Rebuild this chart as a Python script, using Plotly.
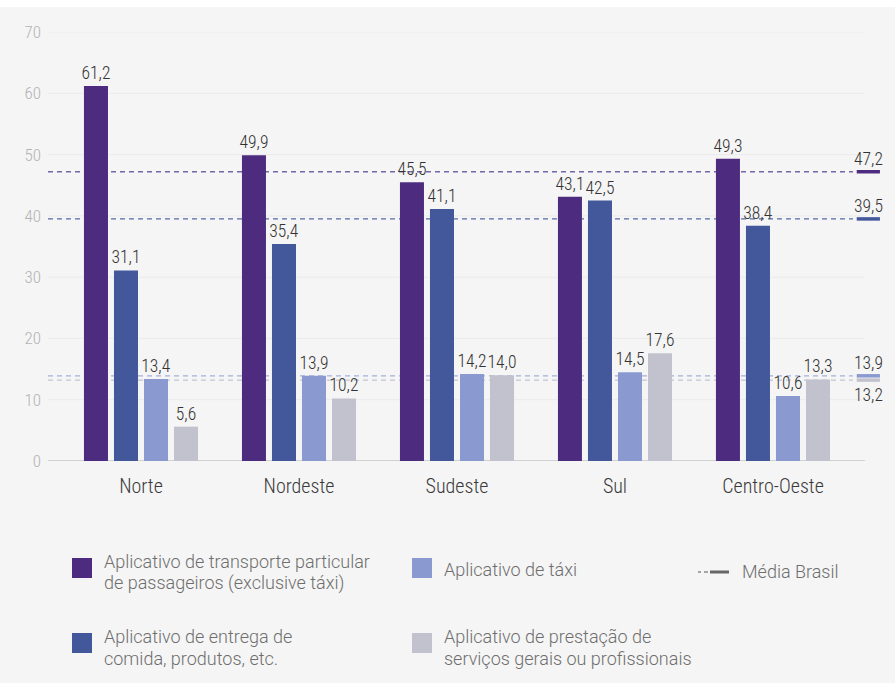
import plotly.graph_objects as go

# ---------------- data ----------------
regions = ["Norte", "Nordeste", "Sudeste", "Sul", "Centro-Oeste"]
series_names = [
    "Aplicativo de transporte particular de passageiros (exclusive táxi)",
    "Aplicativo de entrega de comida, produtos, etc.",
    "Aplicativo de táxi",
    "Aplicativo de prestação de serviços gerais ou profissionais",
]
transporte = [61.2, 49.9, 45.5, 43.1, 49.3]
entrega = [31.1, 35.4, 41.1, 42.5, 38.4]
taxi = [13.4, 13.9, 14.2, 14.5, 10.6]
servicos = [5.6, 10.2, 14.0, 17.6, 13.3]
media_brasil = [47.2, 39.5, 13.9, 13.2]
y_ticks = [0, 10, 20, 30, 40, 50, 60, 70]

# ---------------- styles ----------------
colors = ["#4d2c80", "#43579b", "#8a9ad0", "#c2c2cf"]
dash_colors = ["#7566a6", "#5a6aa8", "#a4b0dc", "#c4c4d2"]
offsets = [-0.361, -0.171, 0.019, 0.209]
bar_w = 0.152
num_font = "Roboto Condensed, Liberation Sans Narrow, sans-serif"
leg_font = "Roboto, Liberation Sans, sans-serif"

x_left, x_right = -0.5886, 4.709
base_end = 4.582
dash_end = 4.506
seg0, seg1 = 4.53, 4.677

def fmt(v):
    return f"{v:.1f}".replace(".", ",")

fig = go.Figure()
xs = list(range(len(regions)))
for i, vals in enumerate([transporte, entrega, taxi, servicos]):
    fig.add_trace(go.Bar(
        x=xs, y=vals, name=series_names[i],
        width=bar_w, offset=offsets[i],
        marker=dict(color=colors[i], line=dict(width=0)),
        text=[fmt(v) for v in vals], textposition="outside",
        textfont=dict(family=num_font, size=17.5, color="#333333", weight=300),
        constraintext="none", cliponaxis=False,
        showlegend=False,
    ))

shapes = []
# faint gridlines
for t in y_ticks[1:]:
    shapes.append(dict(type="line", xref="x", yref="y", x0=x_left, x1=base_end,
                       y0=t, y1=t, line=dict(color="#ebebeb", width=1), layer="below"))
# baseline
shapes.append(dict(type="line", xref="x", yref="y", x0=x_left, x1=base_end,
                   y0=0, y1=0, line=dict(color="#c4c4c4", width=1.5), layer="below"))
# Média Brasil dashed lines and end segments
for i, m in enumerate(media_brasil):
    shapes.append(dict(type="line", xref="x", yref="y", x0=x_left, x1=dash_end,
                       y0=m, y1=m, line=dict(color=dash_colors[i], width=1.3, dash="5px,4px"),
                       layer="below"))
for i in [3, 2, 1, 0]:
    m = media_brasil[i]
    shapes.append(dict(type="line", xref="x", yref="y", x0=seg0, x1=seg1,
                       y0=m, y1=m, line=dict(color=colors[i], width=3.5)))

annotations = []
# media labels
for i, m in enumerate(media_brasil):
    below = (i == 3)
    annotations.append(dict(x=(seg0 + seg1) / 2, y=m, xref="x", yref="y",
                            text=fmt(m), showarrow=False,
                            yanchor="top" if below else "bottom",
                            yshift=-3 if below else 1,
                            font=dict(family=num_font, size=17.5, color="#333333", weight=300)))

# white strip at top (cropped title area)
shapes.append(dict(type="rect", xref="paper", yref="paper", x0=-0.1, x1=1.1,
                   y0=1 + 25 / 429, y1=1 + 40 / 429, fillcolor="white", line=dict(width=0)))

# ---------------- custom legend (pixel-based helpers) ----------------
W, H = 895, 683
L, R, T, B = 48, 10, 32, 222
PW, PH = W - L - R, H - T - B

def px(xp):
    return (xp - L) / PW

def py(yp):
    return (H - B - yp) / PH

leg_items = [
    (72, 558, colors[0], ["Aplicativo de transporte particular", "de passageiros (exclusive táxi)"], [561, 583]),
    (72, 633, colors[1], ["Aplicativo de entrega de", "comida, produtos, etc."], [636, 658]),
    (412, 558, colors[2], ["Aplicativo de táxi"], [569]),
    (412, 633, colors[3], ["Aplicativo de prestação de", "serviços gerais ou profissionais"], [636, 658]),
]
for (sx, sy, col, lines, ys) in leg_items:
    shapes.append(dict(type="rect", xref="paper", yref="paper",
                       x0=px(sx), x1=px(sx + 20), y0=py(sy + 20), y1=py(sy),
                       fillcolor=col, line=dict(width=0)))
    for ln, yy in zip(lines, ys):
        annotations.append(dict(x=px(sx + 30), y=py(yy), xref="paper", yref="paper",
                                text=ln, showarrow=False, xanchor="left", yanchor="middle",
                                font=dict(family=leg_font, size=18, color="#6e6e6e", weight=300)))
# Média Brasil legend symbol
shapes.append(dict(type="line", xref="paper", yref="paper", x0=px(698), x1=px(701),
                   y0=py(572), y1=py(572), line=dict(color="#8a8a8a", width=1.5)))
shapes.append(dict(type="line", xref="paper", yref="paper", x0=px(704), x1=px(708),
                   y0=py(572), y1=py(572), line=dict(color="#8a8a8a", width=1.5)))
shapes.append(dict(type="line", xref="paper", yref="paper", x0=px(710), x1=px(729),
                   y0=py(572), y1=py(572), line=dict(color="#666666", width=3)))
annotations.append(dict(x=px(740), y=py(571), xref="paper", yref="paper",
                        text="Média Brasil", showarrow=False, xanchor="left", yanchor="middle",
                        font=dict(family=leg_font, size=18, color="#6e6e6e", weight=300)))

fig.update_layout(
    width=W, height=H,
    margin=dict(l=L, r=R, t=T, b=B, pad=0),
    paper_bgcolor="#f5f5f5", plot_bgcolor="#f5f5f5",
    barmode="overlay",
    shapes=shapes, annotations=annotations,
    showlegend=False,
    xaxis=dict(range=[x_left, x_right], tickvals=xs, ticktext=regions,
               showgrid=False, zeroline=False, showline=False, ticks="",
               tickfont=dict(family=num_font, size=20, color="#3a3a3a", weight=300),
               ticklabelstandoff=11),
    yaxis=dict(range=[0, 70], tickvals=y_ticks, showgrid=False, zeroline=False,
               showline=False, ticks="",
               tickfont=dict(family=num_font, size=17, color="#b3b3b3", weight=300),
               ticklabelstandoff=6),
)

fig.write_html("out.html")
